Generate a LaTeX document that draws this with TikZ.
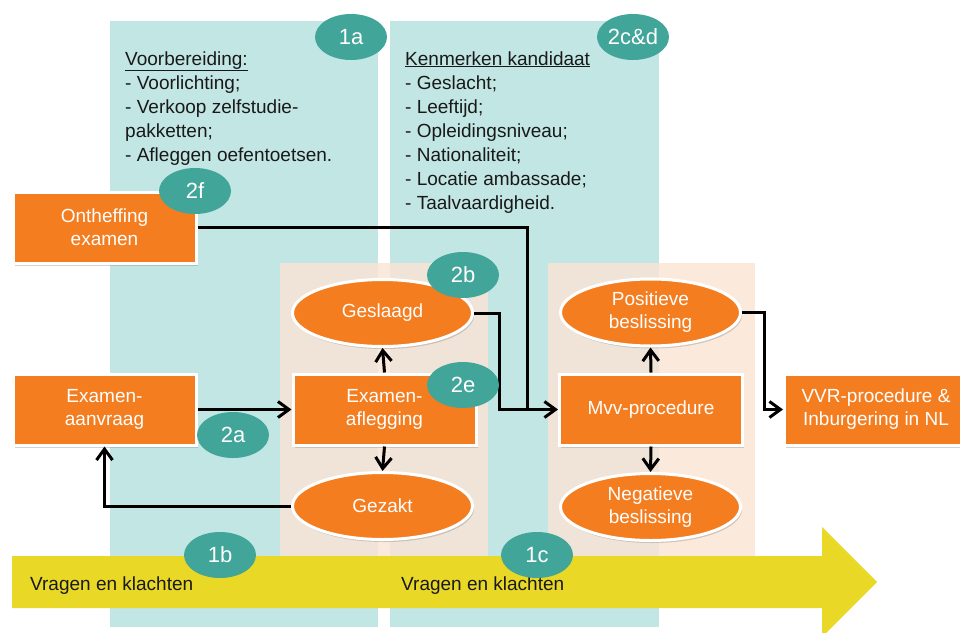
\documentclass[tikz,border=0pt]{standalone}
\usepackage{fontspec}
\setmainfont{Liberation Sans}
\usetikzlibrary{shapes.geometric,arrows.meta,shadows}
\definecolor{tealcol}{RGB}{194,230,227}
\definecolor{peach}{RGB}{251,228,212}
\definecolor{orng}{RGB}{244,125,32}
\definecolor{badgecol}{RGB}{66,165,154}
\definecolor{yel}{RGB}{233,216,37}
\begin{document}
\begin{tikzpicture}[x=1pt,y=-1pt,
  shapebase/.style={fill=orng, draw=white, line width=3pt, text=white,
    font=\fontsize{19}{23}\selectfont, align=center,
    drop shadow={opacity=0.35, shadow xshift=1.5pt, shadow yshift=-2.5pt}},
  box/.style={shapebase, rectangle, minimum width=183pt, minimum height=71pt},
  oval/.style={shapebase, ellipse, minimum width=180pt, minimum height=67pt, inner sep=2pt},
  badge/.style={ellipse, fill=badgecol, minimum width=72pt, minimum height=46pt,
    inner sep=0pt, text=white, font=\fontsize{22}{26}\selectfont},
  conn/.style={line width=3pt, black},
  arr/.style={conn, -{Straight Barb[length=11pt,width=16pt]}},
  txt/.style={anchor=base west, inner sep=0pt, font=\fontsize{19}{24}\selectfont, text=black!90}
]
\useasboundingbox (0,0) rectangle (960,632);
\fill[white] (0,0) rectangle (960,632);
% columns
\fill[tealcol] (110,21) rectangle (378,627);
\fill[tealcol] (390,21) rectangle (659,627);
% peach panels
\fill[peach, opacity=0.8] (280,263) rectangle (488,556);
\fill[peach, opacity=0.8] (548,263) rectangle (755,556);
% yellow arrow
\fill[yel] (12,556) -- (822,556) -- (822,527) -- (877,582) -- (822,637) -- (822,608) -- (12,608) -- cycle;
% column texts
\node[txt] (a0) at (125,65) {\underline{Voorbereiding:}};
\node[txt] (a1) at (125,89) {- Voorlichting;};
\node[txt] (a2) at (125,113) {- Verkoop zelfstudie-};
\node[txt] (a3) at (125,137) {pakketten;};
\node[txt] (a4) at (125,161) {- Afleggen oefentoetsen.};
\node[txt] (b0) at (405,65) {\underline{Kenmerken kandidaat}};
\node[txt] (b1) at (405,89) {- Geslacht;};
\node[txt] (b2) at (405,113) {- Leeftijd;};
\node[txt] (b3) at (405,137) {- Opleidingsniveau;};
\node[txt] (b4) at (405,161) {- Nationaliteit;};
\node[txt] (b5) at (405,185) {- Locatie ambassade;};
\node[txt] (b6) at (405,209) {- Taalvaardigheid.};
\node[txt] (v1) at (30,590) {Vragen en klachten};
\node[txt] (v2) at (401,590) {Vragen en klachten};
% coordinates for junctions
\coordinate (j1) at (527,409.5);
\coordinate (j2) at (499,409.5);
\coordinate (j3) at (764,409.5);
% nodes
\node[box] (ont) at (104.5,227.5) {Ontheffing\\examen};
\node[box] (aanv) at (104.5,409.5) {Examen-\\aanvraag};
\node[box] (afl) at (384.5,409.5) {Examen-\\aflegging};
\node[oval] (gesl) at (382.5,313) {Geslaagd};
\node[oval] (gez) at (382.5,506) {Gezakt};
\node[box] (mvv) at (651,409.5) {Mvv-procedure};
\node[oval] (pos) at (650.5,312.5) {Positieve\\beslissing};
\node[oval] (neg) at (650.5,507) {Negatieve\\beslissing};
\node[box] (vvr) at (876,409.5) {VVR-procedure \&\\Inburgering in NL};
% connectors
\draw[conn] (ont.east) -| (j1);
\draw[arr] (gesl.east) -| (j2) -- (mvv.west);
\draw[arr] (afl.north) -- (gesl.south);
\draw[arr] (afl.south) -- (gez.north);
\draw[arr] (mvv.north) -- (pos.south);
\draw[arr] (mvv.south) -- (neg.north);
\draw[arr] (aanv.east) -- (afl.west);
\draw[arr] (gez.west) -| (aanv.south);
\draw[arr] (pos.east) -| (j3) -- (vvr.west);
% badges
\node[badge] (k1a) at (351,37) {1a};
\node[badge] (k2cd) at (633,37) {2c\&d};
\node[badge] (k2f) at (195,191) {2f};
\node[badge] (k2b) at (463,275) {2b};
\node[badge] (k2e) at (463,385) {2e};
\node[badge] (k2a) at (233,435) {2a};
\node[badge] (k1b) at (220,555) {1b};
\node[badge] (k1c) at (537,555) {1c};
\end{tikzpicture}
\end{document}
